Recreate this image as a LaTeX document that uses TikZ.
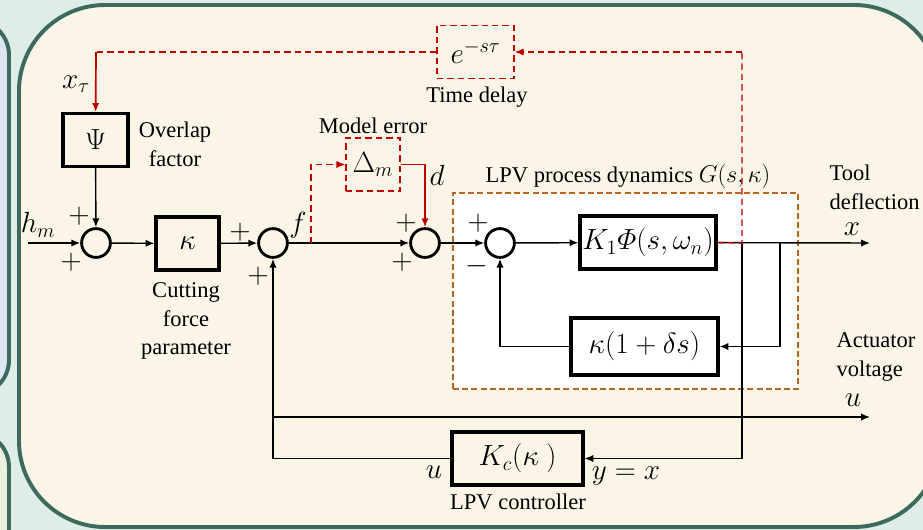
\documentclass[tikz,border=0pt]{standalone}
\usepackage{fontspec}
\setmainfont{Liberation Serif}
\usepackage{amsmath}
\usepackage{tikz}
\usetikzlibrary{arrows.meta,positioning,calc}

\definecolor{bgteal}{HTML}{DFEDEA}
\definecolor{cream}{HTML}{FBF5E8}
\definecolor{panelgreen}{HTML}{3D6A5D}
\definecolor{paleblue}{HTML}{DCE5F2}
\definecolor{palegreen}{HTML}{EBF0E0}
\definecolor{dred}{HTML}{C00000}
\definecolor{lpvbrown}{HTML}{B5651D}

\begin{document}
\begin{tikzpicture}[x=0.025cm, y=-0.025cm,
  >={Latex[length=2.2mm,width=1.8mm]},
  font=\fontsize{16}{20.5}\selectfont,
  mth/.style={font=\fontsize{20}{24}\selectfont},
  block/.style={draw, line width=2.2pt, minimum height=1.325cm, inner sep=0pt, mth},
  sumnode/.style={draw, circle, line width=2pt, minimum size=0.72cm, inner sep=0pt},
  sig/.style={line width=1pt, ->},
  reddash/.style={draw=dred, line width=1pt, dash pattern=on 1.6mm off 1mm},
  redline/.style={draw=dred, line width=1.2pt},
  dashblock/.style={reddash, minimum height=1.325cm, inner sep=0pt, mth}]

  \useasboundingbox (0,0) rectangle (923,530);

  % Slide background and panels
  \begin{scope}
    \clip (0,0) rectangle (923,530);
    \fill[bgteal] (0,0) rectangle (923,530);
    \draw[panelgreen, line width=2.8pt, fill=paleblue, rounded corners=0.875cm] (-100,20) rectangle (9,395);
    \draw[panelgreen, line width=2.8pt, fill=palegreen, rounded corners=0.875cm] (-100,432) rectangle (9,640);
    \draw[panelgreen, line width=2.8pt, fill=cream, rounded corners=2.15cm] (19,5) rectangle (940,527);
  \end{scope}

  % LPV process box (drawn first, white inside)
  \node[draw=lpvbrown, fill=white, line width=1.6pt, dash pattern=on 1.5mm off 0.8mm,
        minimum width=8.625cm, minimum height=4.9cm] (lpv) at (625.5,291) {};
  \node (lpvtitle) at (628,176) {LPV process dynamics $G(s,\kappa)$};

  % --- Blocks ---
  \node[block, minimum width=1.625cm] (psi) at (95.5,140) {$\Psi$};
  \node[block, minimum width=1.575cm] (kap) at (187.5,243.5) {$\kappa$};
  \node[block, minimum width=3.4cm] (k1) at (648,242.5) {$K_1\varPhi(s,\omega_n)$};
  \node[block, minimum width=3.675cm, minimum height=1.425cm] (kd) at (644.5,346.5) {$\kappa(1+\delta s)$};
  \node[block, minimum width=3.275cm] (kc) at (517.5,458.5) {$K_c(\kappa\ )$};
  \node[dashblock, minimum width=1.35cm] (dm) at (373,164.5) {$\Delta_m$};
  \node[dashblock, minimum width=1.925cm] (delay) at (475.5,52) {$e^{-s\tau}$};

  % Summing junctions
  \node[sumnode] (s1) at (96,243) {};
  \node[sumnode] (s2) at (273,243) {};
  \node[sumnode] (s3) at (425,243) {};
  \node[sumnode] (s4) at (500,243) {};

  % Branch points and free ends
  \coordinate (hmin) at (28,243);
  \coordinate (fb) at (311,243);
  \coordinate (fbk) at (780,243);
  \coordinate (yb) at (742,243);
  \coordinate (xout) at (870,243);
  \coordinate (ub) at (273,417);
  \coordinate (uout) at (870,417);
  \coordinate (td) at (742,52);
  \coordinate (xtl) at (96,52);

  % --- Signal lines ---
  \draw[sig] (hmin) -- (s1);
  \draw[sig] (psi) -- (s1);
  \draw[sig] (s1) -- (kap);
  \draw[sig] (kap) -- (s2);
  \draw[sig] (s2) -- (s3);
  \draw[sig] (s3) -- (s4);
  \draw[sig] (s4) -- (k1);
  \draw[sig] (k1) -- (xout);
  \draw[sig] (fbk) |- (kd);
  \draw[sig] (kd) -| (s4);
  \draw[sig] (yb) |- (kc);
  \draw[sig] (kc) -| (s2);
  \draw[sig] (ub) -- (uout);

  % Model error and time delay paths (red)
  \draw[reddash, ->] (fb) |- (dm);
  \draw[redline, ->] (dm.east) -| (s3);
  \draw[reddash] (k1.east) -- (yb) -- (td);
  \draw[reddash, ->] (td) -- (delay);
  \draw[reddash] (delay.west) -- (xtl);
  \draw[redline, ->] (xtl) -- (psi);

  % --- Signs at the junctions ---
  \node[mth] (s1a) at (79,216) {$+$};
  \node[mth] (s1b) at (71,262) {$+$};
  \node[mth] (s2a) at (240,232) {$+$};
  \node[mth] (s2b) at (258,276) {$+$};
  \node[mth] (s3a) at (406,223) {$+$};
  \node[mth] (s3b) at (402,262) {$+$};
  \node[mth] (s4a) at (478,223) {$+$};
  \node[mth] (s4b) at (477,266) {$-$};

  % --- Signal names ---
  \node[mth] (xtau) at (76,84) {$x_\tau$};
  \node[mth] (hm) at (38,225) {$h_m$};
  \node[mth] (flab) at (298,225) {$f$};
  \node[mth] (dlab) at (437,175) {$d$};
  \node[mth, inner sep=1pt] (xlab) at (852,229) {$x$};
  \node[mth, inner sep=1pt] (ulab) at (853,400) {$u$};
  \node[mth] (ukc) at (434,472) {$u$};
  \node[mth] (ylab) at (626,476) {$y=x$};

  % --- Block captions ---
  \node[align=center] (ovl) at (175,144) {Overlap\\factor};
  \node[align=center] (cut) at (186,321) {Cutting\\force\\parameter};
  \node (merr) at (373,126) {Model error};
  \node (tdel) at (477,97) {Time delay};
  \node (lpvc) at (518,502) {LPV controller};
  \node[align=left, anchor=west, inner sep=1pt] (tool) at (828,187) {Tool\\deflection};
  \node[align=left, anchor=west, inner sep=1pt] (act) at (835,357) {Actuator\\voltage};
\end{tikzpicture}
\end{document}
